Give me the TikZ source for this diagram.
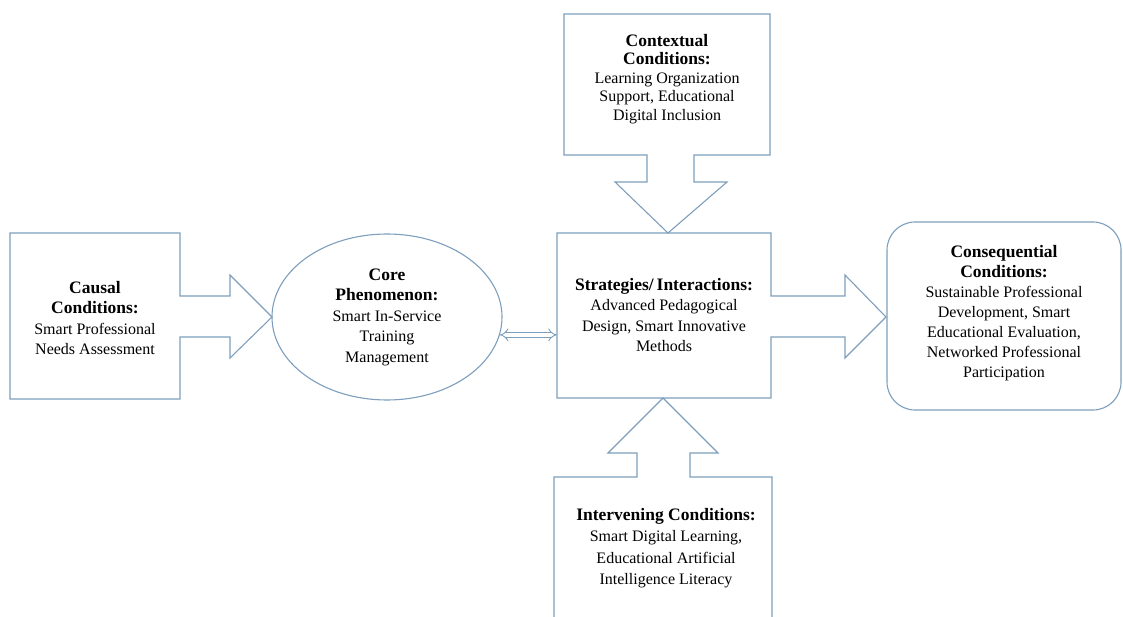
\documentclass[tikz,border=0pt]{standalone}
\usepackage{fontspec}
\setmainfont{Liberation Serif}
\usetikzlibrary{shapes.geometric,arrows.meta}
\definecolor{edge}{RGB}{125,158,188}
\newcommand{\hd}[1]{{\fontsize{17.5}{20.5}\selectfont\bfseries #1}}
\begin{document}
\begin{tikzpicture}[x=1pt,y=-1pt,
  outline/.style={draw=edge,line width=1.1pt,line join=miter},
  txt/.style={align=center,font=\fontsize{16}{20.5}\selectfont,text=black,inner sep=0pt},
  dbl/.style={draw=edge,double=white,double distance=3.6pt,line width=0.9pt,{Implies[length=5pt]}-{Implies[length=5pt]}}]
\useasboundingbox (0,0) rectangle (1123,617);

% Causal conditions with right arrow
\draw[outline] (10,233) -- (180,233) -- (180,296) -- (230,296) -- (230,275) -- (272,317)
  -- (230,358) -- (230,337) -- (180,337) -- (180,399) -- (10,399) -- cycle;
\node[txt] (causal) at (95,318) {\hd{Causal}\\\hd{Conditions:}\\Smart Professional\\Needs Assessment};

% Core phenomenon
\node[ellipse,outline,minimum width=230,minimum height=166,inner sep=0pt] (core) at (387,317) {};
\node[txt] (coretxt) at (core.center) {\hd{Core}\\\hd{Phenomenon:}\\Smart In-Service\\Training\\Management};

% Strategies box with right arrow
\node[minimum width=214,minimum height=165,inner sep=0pt] (strat) at (664,315.5) {};
\draw[outline] (557,233) -- (771,233) -- (771,296) -- (845,296) -- (845,275) -- (886,317)
  -- (845,358) -- (845,337) -- (771,337) -- (771,398) -- (557,398) -- cycle;
\node[txt] (strattxt) at (664,315) {\hd{Strategies/\,Interactions:}\\Advanced Pedagogical\\Design, Smart Innovative\\Methods};

% Double arrow core <-> strategies
\draw[dbl] (core.-9) -- (core.-9 -| strat.west);

% Contextual conditions with down arrow
\draw[outline] (564,14) -- (770,14) -- (770,155) -- (694,155) -- (694,182) -- (727,182) -- (668,233)
  -- (615,182) -- (647,182) -- (647,155) -- (564,155) -- cycle;
\node[txt,font=\fontsize{16}{18.5}\selectfont] (context) at (667,79) {\hd{Contextual}\\\hd{Conditions:}\\Learning Organization\\Support, Educational\\Digital Inclusion};

% Intervening conditions with up arrow
\draw[outline] (554,622) -- (554,477) -- (637,477) -- (637,453) -- (608,453) -- (663,398) -- (718,453)
  -- (690,453) -- (690,477) -- (772,477) -- (772,622);
\node[txt,font=\fontsize{16}{21.5}\selectfont] (interv) at (666,548) {\hd{Intervening Conditions:}\\Smart Digital Learning,\\Educational Artificial\\Intelligence Literacy};

% Consequential conditions
\node[outline,rounded corners=28pt,minimum width=234,minimum height=188,inner sep=0pt] (conseq) at (1004,316) {};
\node[txt,font=\fontsize{16}{20}\selectfont] (conseqtxt) at (1004,313) {\hd{Consequential}\\\hd{Conditions:}\\Sustainable Professional\\Development, Smart\\Educational Evaluation,\\Networked Professional\\Participation};
\end{tikzpicture}
\end{document}
